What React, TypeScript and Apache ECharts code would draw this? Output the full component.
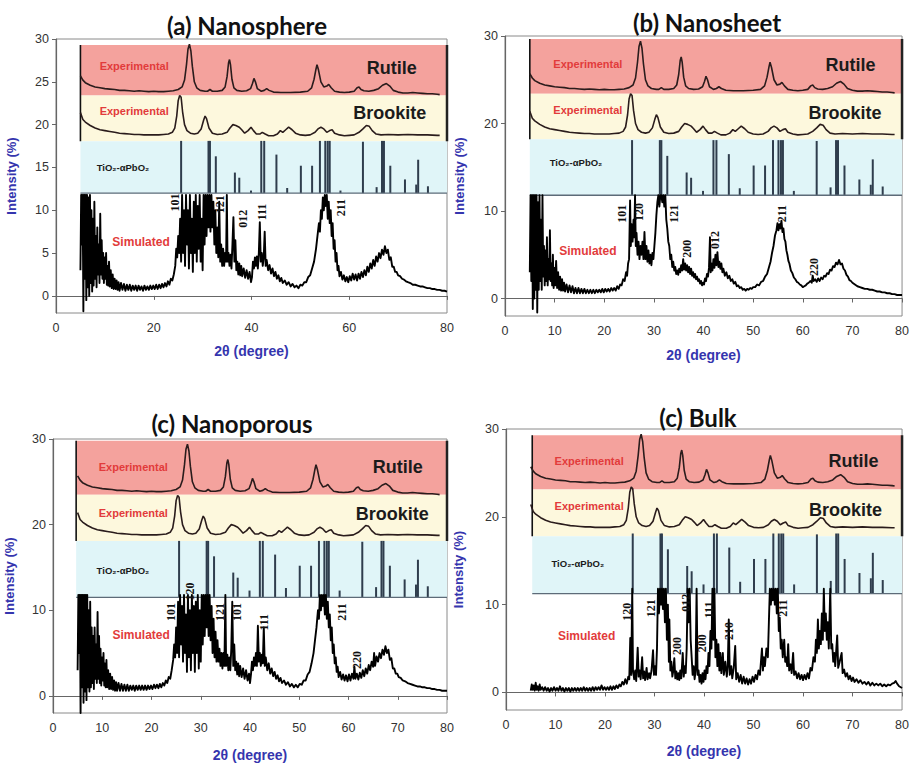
import React, { useEffect, useRef } from 'react';
import * as echarts from 'echarts';

// ---------- DATA ----------
const panelTitles = ['(a) Nanosphere', '(b) Nanosheet', '(c) Nanoporous', '(c) Bulk'];
const xTicksCoarse = [0, 20, 40, 60, 80];
const xTicksFine = [0, 10, 20, 30, 40, 50, 60, 70, 80];
const yTicksFine = [0, 5, 10, 15, 20, 25, 30];
const yTicksCoarse = [0, 10, 20, 30];

const rutileExp = [[5,25.7],[5.5,25.2],[6,24.9],[7,24.6],[8,24.4],[9,24.3],[10,24.2],[11,24.15],[12,24.1],[13,24.0],[14,24.0],[15,23.95],[16,23.9],[17,23.95],[18,23.9],[19,23.85],[20,23.9],[21,23.85],[22,23.85],[23,23.9],[24,23.95],[25,24.1],[25.8,24.4],[26.3,25.2],[26.7,27],[27.0,28.8],[27.3,29.4],[27.6,28.6],[27.9,26.8],[28.3,25.0],[28.8,24.3],[29.5,24.0],[30.5,23.9],[31,23.9],[31.5,24.1],[32,23.9],[33,23.9],[34,24.0],[34.6,24.4],[35.0,25.6],[35.3,27.2],[35.5,27.6],[35.7,27],[36.0,25.3],[36.4,24.3],[37,24.0],[38,23.9],[39,23.95],[39.8,24.2],[40.2,24.8],[40.5,25.4],[40.8,25.0],[41.2,24.2],[42,23.9],[42.6,24.0],[43.1,24.2],[43.6,24.0],[44.5,23.8],[46,23.75],[48,23.75],[50,23.8],[51.5,23.9],[52.3,24.3],[52.8,25.3],[53.2,26.5],[53.4,27.0],[53.7,26.4],[54.2,25.0],[54.8,24.4],[55.4,24.5],[55.8,24.7],[56.3,24.3],[57,23.9],[58,23.8],[59,23.75],[60,23.8],[61,23.9],[61.6,24.3],[62,24.4],[62.4,24.1],[63,23.95],[64,23.9],[65,24.0],[66,24.2],[66.8,24.6],[67.6,24.8],[68.3,24.5],[69,24.0],[70,23.8],[71,23.7],[72,23.7],[73,23.75],[74,23.7],[75,23.65],[76,23.6],[77,23.6],[78,23.55],[78.5,23.5]];

const brookiteExp = [[5,21.4],[5.5,20.6],[6,20.3],[7,19.9],[8,19.6],[9,19.4],[10,19.3],[11,19.2],[12,19.1],[13,19.0],[14,18.95],[15,18.9],[16,18.85],[17,18.85],[18,18.8],[19,18.8],[20,18.8],[21,18.8],[22,18.85],[23,18.9],[23.8,19.1],[24.3,19.6],[24.7,21],[25.0,22.8],[25.3,23.4],[25.6,23.2],[25.9,21.5],[26.3,20.0],[26.8,19.3],[27.5,19.0],[28.3,18.9],[29,19.0],[29.7,19.5],[30.2,20.5],[30.5,21.0],[30.8,20.7],[31.3,19.6],[32,19.0],[33,18.85],[34,18.9],[35,19.1],[35.6,19.6],[36.2,20.0],[36.8,19.9],[37.5,19.7],[38,19.4],[38.6,19.0],[39.3,19.3],[39.9,19.7],[40.4,19.3],[41,18.9],[41.7,18.9],[42.2,19.1],[42.8,18.9],[43.5,18.7],[44.5,18.7],[45.3,18.9],[45.9,19.3],[46.4,19.1],[47.0,19.4],[47.6,19.7],[48.3,19.4],[49,19.0],[50,18.8],[51,18.75],[52,18.8],[53,19.1],[53.6,19.5],[54.2,19.7],[54.8,19.5],[55.4,19.1],[56.0,19.3],[56.5,19.4],[57,19.0],[58,18.8],[59,18.7],[60,18.75],[61,18.8],[62,19.1],[62.8,19.5],[63.5,19.9],[64.1,19.8],[64.7,19.3],[65.5,18.9],[66.5,18.8],[68,18.85],[70,18.8],[72,18.85],[74,18.8],[76,18.8],[78,18.75],[78.5,18.75]];

// TiO2-αPbO2 reference sticks: [2θ, top]
const sticksTiO2 = [[25.6,18.1],[31.2,18.1],[31.5,18.1],[32.7,16.3],[36.6,14.4],[37.5,13.8],[39.9,12.3],[42.0,18.1],[42.6,18.1],[45.1,16.5],[47.3,12.6],[50.1,15.2],[52.4,15.2],[54.0,18.1],[55.1,18.1],[55.6,18.1],[56.0,18.1],[58.2,12.3],[62.8,18.0],[65.6,12.7],[66.7,18.1],[67.1,18.1],[68.4,15.2],[71.4,13.6],[73.7,13.0],[74.1,15.9],[76.1,12.8]];

const simNanosphere = [[5.0,3],[5.15,11.8],[5.3,6],[5.45,11.8],[5.6,-1.8],[5.75,11.8],[5.9,2],[6.05,11.8],[6.2,-0.5],[6.35,11.8],[6.5,1],[6.65,11.5],[6.8,0],[6.95,11.8],[7.1,1.5],[7.25,10],[7.4,0.5],[7.55,9],[7.7,1.2],[7.85,11],[8.0,2],[8.15,7],[8.3,1],[8.45,8],[8.6,2.5],[8.75,6],[8.9,1.5],[9.05,9.6],[9.2,2.5],[9.35,6.5],[9.5,2],[9.65,5],[9.8,1.5],[9.95,4.5],[10.1,2],[10.25,5],[10.4,1.3],[10.55,3.5],[10.7,1.2],[10.85,4],[11.0,1.1],[11.2,3],[11.4,0.9],[11.6,2.5],[11.8,0.8],[12.0,2.0],[12.2,0.8],[12.4,1.8],[12.6,0.7],[12.8,1.6],[13.0,0.6],[13.3,1.5],[13.6,0.7],[13.9,1.4],[14.2,0.6],[14.5,1.3],[14.8,0.7],[15.1,1.3],[15.4,0.6],[15.7,1.2],[16.0,0.7],[16.3,1.2],[16.6,0.6],[16.9,1.2],[17.2,0.7],[17.5,1.1],[17.8,0.6],[18.1,1.2],[18.4,0.7],[18.7,1.1],[19.0,0.7],[19.3,1.2],[19.6,0.8],[19.9,1.2],[20.2,0.8],[20.5,1.3],[20.8,0.8],[21.1,1.3],[21.4,0.9],[21.7,1.4],[22.0,1.0],[22.3,1.5],[22.6,1.1],[22.9,1.7],[23.2,1.3],[23.5,2.0],[23.8,1.8],[24.1,2.5],[24.4,3.5],[24.6,5.5],[24.8,4.5],[25.0,7],[25.2,5],[25.4,9],[25.6,4],[25.8,11.8],[26.0,5],[26.2,10],[26.4,3.5],[26.6,11.8],[26.8,6],[27.0,10],[27.2,3.2],[27.4,11.8],[27.6,5],[27.8,9],[28.0,2.8],[28.2,11],[28.4,5],[28.6,11.8],[28.8,4],[29.0,10.5],[29.2,5.5],[29.4,11.8],[29.6,4],[29.8,9],[30.0,3],[30.2,11.8],[30.4,6],[30.6,11.8],[30.8,7],[31.0,11.8],[31.2,8],[31.4,11.8],[31.6,7.5],[31.8,11.8],[32.0,8],[32.2,11],[32.4,6],[32.6,10],[32.8,5],[33.0,8],[33.2,4.5],[33.4,11],[33.6,4],[33.8,6],[34.0,3.5],[34.2,5.5],[34.4,3.5],[34.6,5],[34.8,4],[34.95,11.8],[35.1,4],[35.3,5],[35.5,3.5],[35.7,4.8],[35.9,3.2],[36.1,6],[36.3,9.2],[36.5,4],[36.7,6.5],[36.9,3],[37.1,4],[37.3,2.5],[37.5,3.8],[37.7,2.4],[37.9,3.5],[38.1,2.3],[38.4,3.2],[38.7,2.1],[39.0,3],[39.3,2],[39.6,2.8],[39.9,1.6],[40.1,2.2],[40.3,4],[40.5,3.2],[40.7,4.5],[40.9,3.5],[41.1,4.6],[41.3,3.2],[41.5,5],[41.7,8.6],[41.9,4],[42.1,5],[42.3,3.5],[42.5,4.5],[42.7,7.5],[42.9,3.5],[43.1,4.2],[43.4,3],[43.7,3.6],[44.0,2.6],[44.3,3.2],[44.6,2.3],[44.9,2.8],[45.2,2.0],[45.5,2.4],[45.8,1.7],[46.1,2.1],[46.4,1.5],[46.8,1.8],[47.2,1.3],[47.6,1.6],[48.0,1.1],[48.4,1.4],[48.8,1.0],[49.2,1.2],[49.6,0.9],[50.0,1.3],[50.4,1.2],[50.8,1.6],[51.2,1.6],[51.6,2.2],[52.0,2.4],[52.4,3.2],[52.8,4],[53.2,5.5],[53.5,7],[53.8,8.5],[54.0,7.5],[54.2,10],[54.4,9],[54.6,11.5],[54.8,10],[55.0,11.8],[55.2,10.5],[55.4,11.8],[55.6,9],[55.8,11],[56.0,8.5],[56.2,10],[56.4,7],[56.6,8.5],[56.8,5.5],[57.0,6.5],[57.2,4],[57.4,5],[57.6,3],[57.8,3.5],[58.0,2.3],[58.3,2.8],[58.6,1.9],[58.9,2.4],[59.2,1.7],[59.5,2.2],[59.8,1.6],[60.1,2.3],[60.4,1.8],[60.7,2.6],[61.0,1.9],[61.3,2.5],[61.6,1.8],[61.9,2.6],[62.2,2.0],[62.5,2.8],[62.8,2.2],[63.1,3.0],[63.4,2.4],[63.7,3.4],[64.0,2.8],[64.3,3.8],[64.6,3.2],[64.9,4.2],[65.2,3.5],[65.5,4.6],[65.8,4],[66.1,5],[66.4,4.4],[66.7,5.4],[67.0,4.8],[67.3,5.8],[67.6,5.0],[67.9,5.4],[68.2,4.2],[68.5,4.5],[68.8,3.4],[69.1,3.4],[69.4,2.8],[69.7,2.8],[70.0,2.4],[70.4,2.3],[70.8,2.0],[71.2,1.9],[71.6,1.7],[72.0,1.6],[72.5,1.5],[73.0,1.3],[73.5,1.3],[74.0,1.2],[74.5,1.1],[75.0,1.1],[75.5,1.0],[76.0,0.9],[76.5,0.9],[77.0,0.8],[77.5,0.8],[78.0,0.7],[78.5,0.7],[79.0,0.6],[79.5,0.6],[80.0,0.5]];

const simNanosheet = [[5.0,3],[5.15,11.8],[5.3,2],[5.45,11.8],[5.6,-1.2],[5.75,11.8],[5.9,0],[6.05,11.8],[6.2,1],[6.35,11.8],[6.5,-1.6],[6.65,11],[6.8,1],[6.95,11.8],[7.1,2],[7.25,9],[7.4,1],[7.55,11.8],[7.7,2.5],[7.85,6],[8.0,1.5],[8.15,5.5],[8.3,2],[8.45,7],[8.6,1.5],[8.75,4.5],[8.9,2.2],[9.05,7.8],[9.2,2],[9.35,4],[9.5,1.5],[9.65,5],[9.8,1.2],[9.95,3.5],[10.1,1.5],[10.3,4.3],[10.5,1.2],[10.7,3],[10.9,1],[11.1,2.5],[11.3,0.9],[11.5,2.2],[11.7,0.9],[11.9,1.8],[12.1,0.8],[12.4,1.6],[12.7,0.7],[13.0,1.5],[13.3,0.7],[13.6,1.4],[13.9,0.6],[14.2,1.2],[14.5,0.6],[14.8,1.2],[15.1,0.6],[15.4,1.1],[15.7,0.6],[16.0,1.1],[16.3,0.6],[16.6,1.0],[16.9,0.6],[17.2,1.0],[17.5,0.6],[17.8,1.0],[18.1,0.6],[18.4,1.0],[18.7,0.7],[19.0,1.0],[19.3,0.7],[19.6,1.1],[19.9,0.7],[20.2,1.1],[20.5,0.8],[20.8,1.1],[21.1,0.8],[21.4,1.2],[21.7,0.9],[22.0,1.2],[22.3,0.9],[22.6,1.4],[22.9,1.1],[23.2,1.6],[23.5,1.5],[23.8,2.2],[24.1,2.0],[24.4,3.0],[24.6,2.6],[24.8,4.0],[25.0,4.5],[25.2,11.2],[25.35,6],[25.5,8.5],[25.7,6.5],[25.9,9],[26.05,7],[26.2,11.8],[26.35,6],[26.5,7.5],[26.7,5],[26.9,6.5],[27.1,4.5],[27.3,6],[27.5,5],[27.7,6.5],[27.9,4.5],[28.1,7.6],[28.3,4.5],[28.5,6],[28.7,4.2],[28.9,5.5],[29.1,4],[29.3,5],[29.5,3.8],[29.7,5.2],[29.9,4.5],[30.1,6],[30.3,7.5],[30.5,9.5],[30.7,11],[30.9,11.8],[31.1,10.5],[31.3,11.8],[31.5,11.8],[31.7,11],[31.9,11.8],[32.1,10.5],[32.3,11.8],[32.5,9],[32.7,8],[32.9,6.5],[33.1,6],[33.3,4.5],[33.5,5],[33.7,3.6],[33.9,4.2],[34.1,3.2],[34.3,3.6],[34.5,2.8],[34.7,3.2],[34.9,2.7],[35.1,3.4],[35.3,3.0],[35.5,3.8],[35.7,3.2],[35.9,4.5],[36.1,3.3],[36.3,4.0],[36.5,3.2],[36.7,3.8],[36.9,3.0],[37.1,3.6],[37.3,2.8],[37.5,3.4],[37.7,2.6],[37.9,3.0],[38.1,2.4],[38.3,2.8],[38.5,2.2],[38.7,2.5],[38.9,2.0],[39.1,2.2],[39.3,1.7],[39.5,2.0],[39.7,1.5],[39.9,1.8],[40.1,1.6],[40.3,2.3],[40.5,2.0],[40.7,2.8],[40.9,2.5],[41.1,3.5],[41.3,7.0],[41.45,3],[41.6,4],[41.8,3.2],[42.0,4.5],[42.2,3.5],[42.4,5.0],[42.6,3.8],[42.8,5.3],[43.0,3.6],[43.2,4.2],[43.4,3.4],[43.6,4.0],[43.8,3.0],[44.0,3.4],[44.3,2.6],[44.6,3.0],[44.9,2.3],[45.2,2.6],[45.5,2.0],[45.8,2.2],[46.1,1.7],[46.4,1.9],[46.7,1.4],[47.0,1.5],[47.3,1.2],[47.6,1.3],[47.9,1.0],[48.2,1.1],[48.5,0.9],[48.8,1.1],[49.1,1.0],[49.4,1.2],[49.7,1.1],[50.0,1.3],[50.4,1.3],[50.8,1.6],[51.2,1.5],[51.6,1.9],[52.0,2.0],[52.4,2.5],[52.8,2.8],[53.2,3.6],[53.5,4.2],[53.8,5.2],[54.1,6.0],[54.4,7.2],[54.7,7.8],[54.9,8.6],[55.1,7.8],[55.3,8.5],[55.5,8.0],[55.7,8.9],[55.9,7.6],[56.1,8.0],[56.3,6.8],[56.5,6.5],[56.7,5.5],[56.9,5.0],[57.1,4.3],[57.3,4.0],[57.6,3.2],[57.9,2.9],[58.2,2.4],[58.5,2.2],[58.8,1.9],[59.1,1.8],[59.4,1.6],[59.7,1.5],[60.0,1.3],[60.3,1.4],[60.6,1.5],[60.9,1.7],[61.2,1.8],[61.5,2.0],[61.8,1.8],[62.0,2.6],[62.2,2.0],[62.5,2.2],[62.8,1.9],[63.1,2.3],[63.4,2.0],[63.7,2.4],[64.0,2.2],[64.3,2.6],[64.6,2.5],[64.9,2.9],[65.2,2.8],[65.5,3.3],[65.8,3.2],[66.1,3.7],[66.4,3.6],[66.7,4.1],[67.0,3.9],[67.3,4.4],[67.6,3.9],[67.9,4.0],[68.2,3.4],[68.5,3.2],[68.8,2.7],[69.1,2.5],[69.4,2.1],[69.7,2.0],[70.0,1.8],[70.5,1.6],[71.0,1.4],[71.5,1.3],[72.0,1.2],[72.5,1.1],[73.0,1.1],[73.5,1.0],[74.0,1.0],[74.5,0.9],[75.0,0.8],[75.5,0.8],[76.0,0.7],[76.5,0.7],[77.0,0.6],[77.5,0.6],[78.0,0.5],[78.5,0.5],[79.0,0.4],[79.5,0.4],[80.0,0.4]];

const simNanoporous = [[5.0,3],[5.15,11.8],[5.3,5],[5.45,11.8],[5.6,-2],[5.75,11.8],[5.9,1],[6.05,11.8],[6.2,-0.8],[6.35,11.8],[6.5,0.5],[6.65,11.8],[6.8,-0.5],[6.95,11.8],[7.1,1],[7.25,10],[7.4,0.5],[7.55,11],[7.7,1],[7.85,8],[8.0,1.5],[8.15,7],[8.3,0.8],[8.45,8],[8.6,2],[8.75,6],[8.9,1.5],[9.05,9.8],[9.2,2],[9.35,7],[9.5,1.5],[9.65,5.5],[9.8,1.2],[9.95,4.5],[10.1,1.8],[10.25,5],[10.4,1.2],[10.55,3.8],[10.7,1],[10.85,4.2],[11.0,1],[11.2,3],[11.4,0.8],[11.6,2.6],[11.8,0.8],[12.0,2.2],[12.2,0.7],[12.4,1.8],[12.6,0.6],[12.8,1.6],[13.0,0.6],[13.3,1.5],[13.6,0.6],[13.9,1.4],[14.2,0.6],[14.5,1.3],[14.8,0.6],[15.1,1.3],[15.4,0.6],[15.7,1.2],[16.0,0.7],[16.3,1.2],[16.6,0.6],[16.9,1.2],[17.2,0.7],[17.5,1.2],[17.8,0.7],[18.1,1.2],[18.4,0.7],[18.7,1.2],[19.0,0.7],[19.3,1.2],[19.6,0.8],[19.9,1.2],[20.2,0.8],[20.5,1.3],[20.8,0.9],[21.1,1.3],[21.4,0.9],[21.7,1.4],[22.0,1.0],[22.3,1.5],[22.6,1.2],[22.9,1.8],[23.2,1.5],[23.5,2.2],[23.8,2.0],[24.1,3.0],[24.4,4.2],[24.6,6],[24.8,4.5],[25.0,8],[25.2,5],[25.4,11],[25.6,4.5],[25.8,11.8],[26.0,6],[26.2,10.5],[26.4,4],[26.6,11.8],[26.8,5],[27.0,9.5],[27.2,2.8],[27.4,11.8],[27.6,4.5],[27.8,10],[28.0,3],[28.2,11.8],[28.4,5],[28.6,10.5],[28.8,2.8],[29.0,11],[29.2,5],[29.4,11.8],[29.6,3.2],[29.8,10],[30.0,4],[30.2,11.8],[30.4,6],[30.6,11.8],[30.8,7],[31.0,11.8],[31.2,8],[31.4,11.8],[31.6,7],[31.8,11.8],[32.0,6.5],[32.2,10.5],[32.4,5],[32.6,9],[32.8,4.5],[33.0,7.5],[33.2,4],[33.4,6.5],[33.6,4],[33.8,5.5],[34.0,3.5],[34.2,5],[34.4,3.2],[34.6,5],[34.8,3.5],[35.0,11.8],[35.15,3.5],[35.4,4.8],[35.6,3],[35.8,4.5],[36.0,3],[36.2,5.5],[36.4,11],[36.6,3.5],[36.8,6],[37.0,3],[37.2,4],[37.4,2.5],[37.6,3.8],[37.8,2.3],[38.0,3.5],[38.3,2.2],[38.6,3.2],[38.9,2],[39.2,3],[39.5,1.8],[39.8,2.6],[40.0,1.5],[40.2,2.5],[40.4,4],[40.6,3],[40.8,4.5],[41.0,3.5],[41.2,5],[41.4,3.5],[41.6,8.2],[41.8,4],[42.0,5],[42.2,3.5],[42.4,4.8],[42.6,3.8],[42.8,8],[43.0,3.5],[43.2,4.5],[43.5,3],[43.8,3.8],[44.1,2.6],[44.4,3.2],[44.7,2.3],[45.0,2.8],[45.3,2.0],[45.6,2.4],[45.9,1.7],[46.2,2.1],[46.5,1.5],[46.9,1.8],[47.3,1.3],[47.7,1.6],[48.1,1.1],[48.5,1.4],[48.9,1.0],[49.3,1.3],[49.7,1.0],[50.1,1.4],[50.5,1.3],[50.9,1.8],[51.3,1.8],[51.7,2.5],[52.1,2.8],[52.5,3.8],[52.9,5],[53.2,6.5],[53.5,8],[53.8,10],[54.0,9],[54.2,11.8],[54.4,10],[54.6,11.8],[54.8,10.5],[55.0,11.8],[55.2,9.5],[55.4,11.8],[55.6,9],[55.8,11],[56.0,8],[56.2,9.5],[56.4,6.5],[56.6,8],[56.8,5],[57.0,6],[57.2,3.8],[57.4,4.5],[57.6,2.8],[57.8,3.4],[58.0,2.2],[58.3,2.8],[58.6,1.9],[58.9,2.5],[59.2,1.8],[59.5,2.4],[59.8,1.7],[60.1,2.5],[60.4,1.8],[60.7,2.6],[61.0,2.0],[61.2,3.4],[61.4,2.0],[61.7,2.6],[62.0,1.9],[62.3,2.7],[62.6,2.1],[62.9,3.0],[63.2,2.3],[63.5,3.2],[63.8,2.6],[64.1,3.6],[64.4,3.0],[64.7,4.0],[65.0,3.4],[65.2,5.0],[65.4,3.5],[65.7,4.6],[66.0,4.0],[66.3,5.0],[66.6,4.4],[66.9,5.4],[67.2,4.8],[67.5,5.8],[67.8,5.0],[68.1,5.4],[68.4,4.2],[68.7,4.4],[69.0,3.2],[69.3,3.2],[69.6,2.6],[69.9,2.6],[70.2,2.2],[70.6,2.1],[71.0,1.8],[71.5,1.7],[72.0,1.5],[72.5,1.4],[73.0,1.3],[73.5,1.2],[74.0,1.1],[74.5,1.1],[75.0,1.0],[75.5,1.0],[76.0,0.9],[76.5,0.9],[77.0,0.8],[77.5,0.8],[78.0,0.7],[78.5,0.7],[79.0,0.6],[79.5,0.6],[80.0,0.6]];

const simBulk = [[5.0,0.2],[5.2,0.9],[5.4,0.3],[5.6,0.8],[5.8,0.2],[6.0,1.1],[6.2,0.3],[6.4,0.7],[6.6,0.2],[6.8,0.9],[7.0,0.3],[7.3,0.6],[7.6,0.2],[7.9,0.6],[8.2,0.2],[8.5,0.5],[8.8,0.1],[9.1,0.5],[9.4,0.2],[9.7,0.6],[10.0,0.2],[10.3,0.5],[10.6,0.2],[10.9,0.7],[11.2,0.2],[11.5,0.5],[11.8,0.1],[12.1,0.5],[12.4,0.2],[12.7,0.5],[13.0,0.1],[13.3,0.5],[13.6,0.2],[13.9,0.5],[14.2,0.2],[14.5,0.5],[14.8,0.2],[15.1,0.5],[15.4,0.2],[15.7,0.6],[16.0,0.2],[16.3,0.5],[16.6,0.2],[16.9,0.5],[17.2,0.2],[17.5,0.6],[17.8,0.2],[18.1,0.6],[18.4,0.3],[18.7,0.6],[19.0,0.3],[19.3,0.8],[19.6,0.3],[19.9,0.6],[20.2,0.3],[20.5,0.6],[20.8,0.3],[21.1,0.7],[21.4,0.3],[21.7,0.7],[22.0,0.4],[22.3,0.8],[22.6,0.5],[22.9,0.9],[23.2,0.7],[23.5,1.2],[23.8,0.9],[24.1,1.5],[24.4,1.0],[24.7,1.8],[24.9,1.5],[25.1,6.2],[25.3,2],[25.5,11.8],[25.65,2.5],[25.9,1.5],[26.1,2.5],[26.3,1.3],[26.6,5.1],[26.8,1.8],[27.0,2.5],[27.2,1.5],[27.5,4],[27.7,1.6],[27.9,2.4],[28.1,1.4],[28.4,2.8],[28.6,1.5],[28.9,2.2],[29.1,1.6],[29.4,2.5],[29.7,4.8],[29.9,2],[30.1,3],[30.3,2],[30.5,5],[30.7,11.8],[30.9,9],[31.1,11.8],[31.3,10],[31.5,11.8],[31.7,9.5],[31.9,11.8],[32.1,8],[32.3,11.8],[32.5,6],[32.7,10],[32.9,3.5],[33.0,8.3],[33.2,2.5],[33.4,3.5],[33.6,1.8],[33.8,2.5],[34.0,3.9],[34.2,1.6],[34.4,2.4],[34.6,1.5],[34.8,2.2],[35.0,1.4],[35.2,2.5],[35.4,1.6],[35.7,4.5],[35.9,1.8],[36.1,3],[36.3,2.2],[36.5,5],[36.7,11.8],[36.9,8],[37.1,11.8],[37.3,6],[37.5,4],[37.7,2],[37.9,3],[38.1,1.5],[38.3,2.5],[38.5,11.8],[38.7,2],[38.9,2.5],[39.1,1.2],[39.3,2],[39.5,1.0],[39.7,2.2],[39.9,1.2],[40.1,2.5],[40.3,1.5],[40.5,3],[40.7,2.2],[40.9,4.5],[41.1,3],[41.3,7],[41.5,5],[41.7,11.8],[41.9,6],[42.1,11.8],[42.3,4],[42.5,6],[42.7,3],[42.9,5.5],[43.1,2.5],[43.3,4.5],[43.5,2.2],[43.8,4.5],[44.0,2.0],[44.3,3.5],[44.6,1.8],[44.8,3],[45.0,8.3],[45.2,2],[45.5,3],[45.7,1.6],[46.0,2.8],[46.3,5.3],[46.5,1.5],[46.8,2.2],[47.1,1.2],[47.4,2],[47.7,1.0],[48.0,1.8],[48.3,1.0],[48.6,1.6],[48.9,0.9],[49.2,1.5],[49.5,1.0],[49.8,1.8],[50.1,1.2],[50.4,2],[50.7,1.5],[51.0,2.5],[51.3,2],[51.7,5],[51.9,2.5],[52.1,4],[52.3,3],[52.6,5],[52.9,4],[53.1,8],[53.3,11.8],[53.5,10],[53.7,11.8],[53.9,10.5],[54.1,11.8],[54.3,10],[54.5,11.8],[54.7,9],[54.9,11.8],[55.1,7],[55.3,8.5],[55.5,5],[55.7,6],[55.9,4],[56.2,6],[56.4,3.5],[56.6,4],[56.8,3],[57.0,5.5],[57.2,2.5],[57.5,3.2],[57.7,2.2],[58.0,4.5],[58.2,2],[58.5,2.4],[58.8,1.6],[59.1,2.2],[59.4,1.5],[59.7,2],[60.0,1.4],[60.3,2],[60.6,1.5],[60.9,2.2],[61.2,1.6],[61.5,2.8],[61.8,2.5],[62.1,4],[62.4,3.5],[62.6,6],[62.8,4.5],[63.0,8.3],[63.2,5],[63.4,7],[63.6,5.5],[63.8,9],[64.0,6],[64.2,11.8],[64.4,7],[64.6,9],[64.8,6],[65.0,8],[65.2,5],[65.5,11.8],[65.7,5],[65.9,5.5],[66.1,3.5],[66.3,4.5],[66.5,3],[66.9,6.5],[67.1,2.8],[67.4,3.5],[67.8,4.5],[68.0,2.2],[68.3,2.6],[68.6,1.8],[68.9,2.2],[69.2,1.5],[69.5,1.9],[69.8,1.3],[70.1,1.7],[70.4,1.2],[70.8,1.5],[71.2,1.1],[71.6,1.4],[72.0,1.0],[72.4,1.2],[72.8,0.9],[73.2,1.2],[73.6,0.8],[74.0,1.1],[74.4,0.8],[74.8,1.0],[75.2,0.8],[75.6,1.0],[76.0,0.7],[76.4,0.9],[76.8,0.7],[77.2,0.9],[77.6,0.8],[78.0,1.0],[78.4,1.1],[78.7,1.3],[79.0,1.0],[79.4,0.7],[80.0,0.5]];

// Miller-index annotations: [2θ, intensity] and their texts
const millerNanosphere = [[24.3,10.9],[33.5,10.7],[38.2,9.0],[42.1,9.8],[58.4,10.3]];
const millerNanosphereText = ['101','121','012','111','211'];
const millerNanosheet = [[23.5,9.7],[27.0,9.9],[34.0,9.7],[36.6,5.7],[42.3,6.7],[55.9,9.7],[62.3,3.6]];
const millerNanosheetText = ['101','120','121','200','012','211','220'];
const millerNanoporous = [[24.0,9.8],[27.8,12.2],[33.9,9.8],[37.3,9.8],[42.9,8.6],[58.6,9.8],[61.8,4.2]];
const millerNanoporousText = ['101','120','121','101','111','211','220'];
const millerBulk = [[24.4,9.2],[29.3,9.6],[34.5,5.3],[36.4,10.2],[39.6,5.6],[41.0,9.4],[45.1,7.0],[56.0,9.6]];
const millerBulkText = ['120','121','200','012','200','111','210','211'];

// band limits: [red top, red/yellow, yellow/blue, blue bottom, left 2θ]
const bandsNanosphere = [29.3, 23.4, 18.05, 12.0, 5.0];
const bandsNanosheet = [29.65, 23.4, 18.2, 11.8, 5.0];
const bandsNanoporous = [29.8, 23.5, 18.1, 11.5, 4.7];
const bandsBulk = [29.3, 23.1, 17.8, 11.25, 5.3];

// panel captions: positions in data coordinates
const captionTexts = ['Experimental', 'Rutile', 'Experimental', 'Brookite', 'TiO₂-αPbO₂', 'Simulated'];
const captionsNanosphere = [[16,26.8],[68.7,26.6],[16,21.6],[68.3,21.3],[13.7,15.0],[17.4,6.3]];
const captionsNanosheet = [[16.7,26.8],[69.6,26.7],[16.7,21.5],[68.5,21.2],[14.3,15.5],[16.7,5.4]];
const captionsNanoporous = [[16.3,26.7],[70,26.7],[16.3,21.4],[68.9,21.2],[14.2,14.6],[17.9,7.1]];
const captionsBulk = [[16.8,26.4],[70.2,26.3],[16.8,21.25],[68.6,20.8],[14.5,14.7],[16.3,6.4]];

// ---------- LAYOUT / STYLE ----------
const SANS = '"Liberation Sans", Arial, sans-serif';
const SERIF = '"Liberation Serif", "Times New Roman", serif';
const BLUE = '#3535ae';
const RED = '#e23b3b';
const bandColors = ['#f4a29d', '#fdf8dd', '#e0f5f8'];
const captionStyles = [
  { fill: RED, fontSize: 11, fontWeight: 'bold', fontFamily: SANS },
  { fill: '#1b1b1b', fontSize: 18, fontWeight: 'bold', fontFamily: SANS },
  { fill: RED, fontSize: 11, fontWeight: 'bold', fontFamily: SANS },
  { fill: '#1b1b1b', fontSize: 18, fontWeight: 'bold', fontFamily: SANS },
  { fill: '#1b1b1b', fontSize: 9.5, fontWeight: 'bold', fontFamily: SANS },
  { fill: RED, fontSize: 12, fontWeight: 'bold', fontFamily: SANS },
];

const panels = [
  { left: 56, top: 39, width: 391, height: 274, tx: 247, ty: 25, yGap: 38, xGap: 31, xTicks: xTicksCoarse, yTicks: yTicksFine, sim: simNanosphere, miller: millerNanosphere, millerText: millerNanosphereText, bands: bandsNanosphere, captions: captionsNanosphere },
  { left: 505, top: 36, width: 402, height: 280, tx: 707, ty: 22, yGap: 39, xGap: 32, xTicks: xTicksFine, yTicks: yTicksCoarse, sim: simNanosheet, miller: millerNanosheet, millerText: millerNanosheetText, bands: bandsNanosheet, captions: captionsNanosheet },
  { left: 53, top: 439, width: 394, height: 277, tx: 232, ty: 423, yGap: 37, xGap: 35, xTicks: xTicksFine, yTicks: yTicksCoarse, sim: simNanoporous, miller: millerNanoporous, millerText: millerNanoporousText, bands: bandsNanoporous, captions: captionsNanoporous },
  { left: 506, top: 429, width: 401, height: 281, tx: 698, ty: 417, yGap: 41, xGap: 34, xTicks: xTicksFine, yTicks: yTicksCoarse, sim: simBulk, miller: millerBulk, millerText: millerBulkText, bands: bandsBulk, captions: captionsBulk },
];

function buildOption() {
  const grid: any[] = [];
  const xAxis: any[] = [];
  const yAxis: any[] = [];
  const series: any[] = [];
  const graphic: any[] = [];

  panels.forEach((p, i) => {
    grid.push({ left: p.left, top: p.top, width: p.width, height: p.height, show: true, borderColor: '#8a8a8a', borderWidth: 1, backgroundColor: 'transparent' });
    xAxis.push({
      type: 'value', gridIndex: i, min: 0, max: 80,
      name: '2θ (degree)', nameLocation: 'middle', nameGap: p.xGap,
      nameTextStyle: { color: BLUE, fontWeight: 'bold', fontSize: 14, fontFamily: SANS },
      axisLine: { show: true, lineStyle: { color: '#666', width: 1.2 } },
      axisTick: { show: true, length: 4, lineStyle: { color: '#666' }, customValues: p.xTicks },
      axisLabel: { color: '#333', fontSize: 12.5, fontFamily: SANS, margin: 8, customValues: p.xTicks },
      splitLine: { show: false },
    });
    yAxis.push({
      type: 'value', gridIndex: i, min: -2, max: 30,
      name: 'Intensity (%)', nameLocation: 'middle', nameGap: p.yGap, nameRotate: 90,
      nameTextStyle: { color: BLUE, fontWeight: 'bold', fontSize: 13, fontFamily: SANS },
      axisLine: { show: true, lineStyle: { color: '#666', width: 1.2 } },
      axisTick: { show: true, length: 4, lineStyle: { color: '#666' }, customValues: p.yTicks },
      axisLabel: { color: '#333', fontSize: 12.5, fontFamily: SANS, margin: 7, customValues: p.yTicks },
      splitLine: { show: false },
    });
    const b = p.bands;
    const xl = b[4];
    series.push({
      type: 'custom', xAxisIndex: i, yAxisIndex: i, silent: true, z: 1, clip: true,
      data: [[xl, b[1], 80, b[0], 0], [xl, b[2], 80, b[1], 1], [xl, b[3], 80, b[2], 2]],
      renderItem: (params: any, api: any) => {
        const p1 = api.coord([api.value(0), api.value(3)]);
        const p2 = api.coord([api.value(2), api.value(1)]);
        return { type: 'rect', shape: { x: p1[0], y: p1[1], width: p2[0] - p1[0], height: p2[1] - p1[1] }, style: { fill: bandColors[api.value(4)] } };
      },
    });
    series.push({
      type: 'custom', xAxisIndex: i, yAxisIndex: i, silent: true, z: 3,
      data: sticksTiO2,
      renderItem: (params: any, api: any) => {
        const p1 = api.coord([api.value(0), b[3]]);
        const p2 = api.coord([api.value(0), api.value(1)]);
        return { type: 'line', shape: { x1: p1[0], y1: p1[1], x2: p2[0], y2: p2[1] }, style: { stroke: '#2f3d4d', lineWidth: 2 } };
      },
    });
    const lineBase = { type: 'line', xAxisIndex: i, yAxisIndex: i, showSymbol: false, symbol: 'none', silent: true, animation: false };
    series.push({ ...lineBase, z: 4, data: [[xl, b[3]], [80, b[3]]], lineStyle: { color: '#5d6b78', width: 1.3 } });
    series.push({ ...lineBase, z: 4, data: [[xl, b[0]], [xl, b[2]]], lineStyle: { color: '#111', width: 1.6 } });
    series.push({ ...lineBase, z: 4, data: [[80, b[0]], [80, b[2]]], lineStyle: { color: '#222', width: 2.5 } });
    series.push({ ...lineBase, z: 5, data: rutileExp, lineStyle: { color: '#2a1c1c', width: 1.6 } });
    series.push({ ...lineBase, z: 5, data: brookiteExp, lineStyle: { color: '#2a1c1c', width: 1.6 } });
    series.push({ ...lineBase, z: 5, data: p.sim, lineStyle: { color: '#000', width: 1.9, join: 'round' } });
    series.push({
      type: 'custom', xAxisIndex: i, yAxisIndex: i, silent: true, z: 10, clip: false,
      data: p.captions,
      renderItem: (params: any, api: any) => {
        const pt = api.coord([api.value(0), api.value(1)]);
        const st = captionStyles[params.dataIndex];
        return { type: 'text', x: pt[0], y: pt[1], style: { text: captionTexts[params.dataIndex], align: 'center', verticalAlign: 'middle', ...st } };
      },
    });
    series.push({
      type: 'custom', xAxisIndex: i, yAxisIndex: i, silent: true, z: 10, clip: false,
      data: p.miller,
      renderItem: (params: any, api: any) => {
        const pt = api.coord([api.value(0), api.value(1)]);
        return { type: 'text', x: pt[0], y: pt[1], rotation: Math.PI / 2, style: { text: p.millerText[params.dataIndex], align: 'center', verticalAlign: 'middle', fill: '#111', fontSize: 12, fontWeight: 'bold', fontFamily: SERIF } };
      },
    });
    graphic.push({ type: 'text', x: p.tx, y: p.ty, style: { text: panelTitles[i], align: 'center', verticalAlign: 'middle', fill: '#111', fontSize: 24, fontWeight: 'bold', fontFamily: 'Lato, "Open Sans", sans-serif' } });
  });

  return { animation: false, backgroundColor: '#fff', grid, xAxis, yAxis, series, graphic };
}

export default function App() {
  const ref = useRef<HTMLDivElement>(null);
  useEffect(() => {
    if (!ref.current) return;
    const chart = echarts.init(ref.current, null, { renderer: 'svg' });
    chart.setOption(buildOption() as any);
    return () => chart.dispose();
  }, []);
  return <div ref={ref} style={{ position: 'absolute', left: 0, top: 0, width: 912, height: 763 }} />;
}
